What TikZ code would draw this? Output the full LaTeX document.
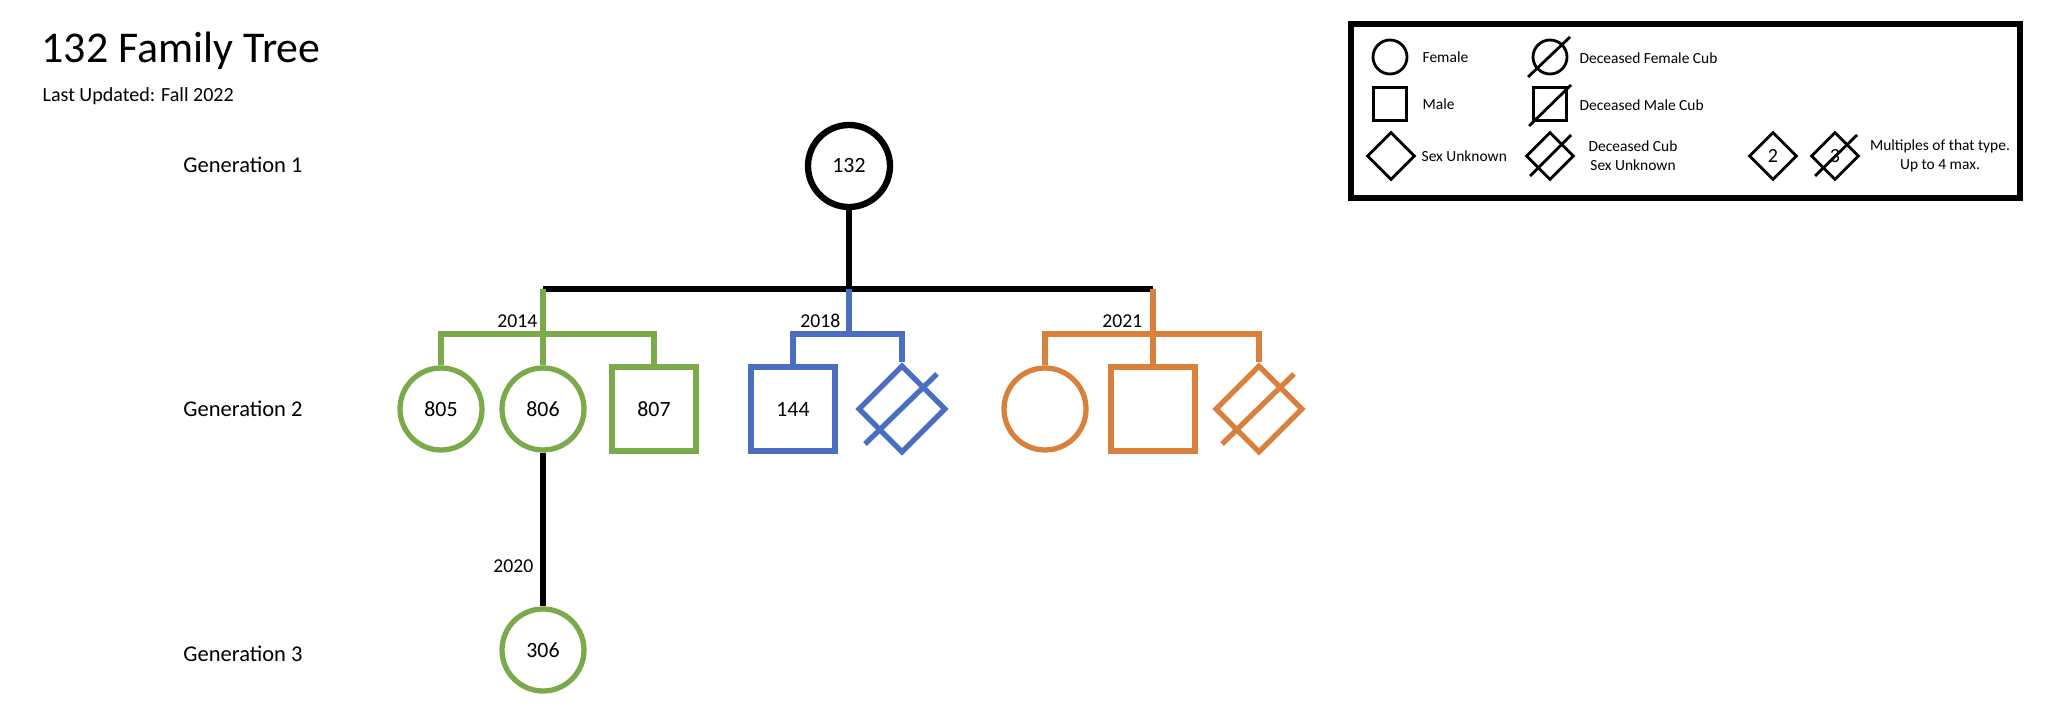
\documentclass[tikz,border=0pt]{standalone}
\usepackage{fontspec}
\setmainfont{Carlito}
\usepackage{xcolor}
\usepackage{tikz}
\usetikzlibrary{shapes.geometric}

\definecolor{famgreen}{RGB}{122,170,74}
\definecolor{famblue}{RGB}{74,110,194}
\definecolor{famorange}{RGB}{216,128,60}

\begin{document}
\begin{tikzpicture}[
    x=0.1mm, y=-0.1mm,
    line width=1.5pt,
    female/.style={
        circle,
        draw,
        inner sep=0pt,
        minimum size=8.2mm,
        font=\fontsize{6.2pt}{7.4pt}\selectfont
    },
    male/.style={
        rectangle,
        draw,
        inner sep=0pt,
        minimum size=8.4mm,
        font=\fontsize{6.2pt}{7.4pt}\selectfont
    },
    unknown/.style={
        diamond,
        draw,
        aspect=1,
        inner sep=0pt,
        minimum size=8.8mm
    },
    lfemale/.style={circle, draw, line width=0.8pt, inner sep=0pt, minimum size=3.4mm},
    lmale/.style={rectangle, draw, line width=0.8pt, inner sep=0pt, minimum size=3.3mm},
    lunknown/.style={diamond, draw, aspect=1, line width=0.8pt, inner sep=0pt,
        minimum size=4.8mm, font=\fontsize{5.7pt}{6.8pt}\selectfont},
    legendtext/.style={anchor=west, inner sep=0pt, align=center,
        font=\fontsize{4.4pt}{5.4pt}\selectfont},
    gentext/.style={inner sep=0pt, font=\fontsize{6.4pt}{7.6pt}\selectfont},
    year/.style={inner sep=0pt, font=\fontsize{5.6pt}{6.7pt}\selectfont},
    cross/.style={line width=0.8pt}
]

\useasboundingbox (0,0) rectangle (2048,710);

\node[anchor=base west, inner sep=0pt, font=\fontsize{12.5pt}{15pt}\selectfont]
    (title) at (39,63) {132 Family Tree};
\node[anchor=base west, inner sep=0pt, font=\fontsize{5.7pt}{6.8pt}\selectfont]
    (updated) at (40,102) {Last Updated: Fall 2022};

\node[gentext] (gen1) at (243,165) {Generation 1};
\node[gentext] (gen2) at (243,409) {Generation 2};
\node[gentext] (gen3) at (243,654) {Generation 3};

\node[female, line width=1.8pt] (n132) at (849,166) {132};
\coordinate (barwest) at (543,289);
\coordinate (barmid) at (849,289);
\coordinate (bareast) at (1153,289);

\node[female, famgreen, text=black] (n805) at (441,409) {805};
\node[female, famgreen, text=black] (n806) at (543,409) {806};
\node[male, famgreen, text=black] (n807) at (654,409) {807};
\coordinate (greenbar) at (543,334);

\node[male, famblue, text=black] (n144) at (793,409) {144};
\node[unknown, famblue] (blue2) at (902,409) {};
\coordinate (bluebar) at (849,334);

\node[female, famorange] (orange1) at (1045,409) {};
\node[male, famorange] (orange2) at (1153,409) {};
\node[unknown, famorange] (orange3) at (1259,409) {};
\coordinate (orangebar) at (1153,334);

\node[female, famgreen, text=black] (n306) at (543,650) {306};

\draw (n132) -- (barmid);
\draw (barwest) -- (bareast);

\draw[famgreen] (barwest) -- (n806.north);
\draw[famgreen] (n805.north) -- (n805.north |- greenbar) -- (n807.north |- greenbar) -- (n807.north);

\draw[famblue] (barmid) -- (bluebar);
\draw[famblue] (n144.north) -- (n144.north |- bluebar) -- (blue2.north |- bluebar) -- (blue2.north);
\draw[famblue] ([shift={(-37,35)}]blue2.center) -- ([shift={(35,-35)}]blue2.center);

\draw[famorange] (bareast) -- (orange2.north);
\draw[famorange] (orange1.north) -- (orange1.north |- orangebar) -- (orange3.north |- orangebar) -- (orange3.north);
\draw[famorange] ([shift={(-37,35)}]orange3.center) -- ([shift={(35,-35)}]orange3.center);

\draw (n806) -- (n306);

\node[year, anchor=south east] (y2014) at (540,330) {2014};
\node[year, anchor=south east] (y2018) at (843,330) {2018};
\node[year, anchor=south east] (y2021) at (1145,330) {2021};
\node[year, anchor=east] (y2020) at (536,566) {2020};

\node[draw, line width=1.6pt, inner sep=0pt, minimum width=66.9mm, minimum height=17.4mm]
    (legend) at (1685.5,111) {};

\node[lfemale] (lf) at (1390,57) {};
\node[legendtext] (lftext) at (1420,57) {Female};
\node[lmale] (lm) at (1390,104) {};
\node[legendtext] (lmtext) at (1420,104) {Male};
\node[lunknown] (lu) at (1391,156) {};
\node[legendtext] (lutext) at (1419,156) {Sex Unknown};

\node[lfemale] (ldf) at (1550,57) {};
\draw[cross] ([shift={(-22,20)}]ldf.center) -- ([shift={(20,-20)}]ldf.center);
\node[legendtext] (ldftext) at (1577,58) {Deceased Female Cub};
\node[lmale] (ldm) at (1550,104) {};
\draw[cross] ([shift={(-21,22)}]ldm.center) -- ([shift={(21,-19)}]ldm.center);
\node[legendtext] (ldmtext) at (1577,105) {Deceased Male Cub};
\node[lunknown] (ldu) at (1550,156) {};
\draw[cross] ([shift={(-20,20)}]ldu.center) -- ([shift={(21,-21)}]ldu.center);
\node[legendtext, anchor=center] (ldutext) at (1633,156) {Deceased Cub\\Sex Unknown};

\node[lunknown] (lmulti2) at (1773,156) {2};
\node[lunknown] (lmulti3) at (1835,156) {3};
\draw[cross] ([shift={(-20,20)}]lmulti3.center) -- ([shift={(22,-21)}]lmulti3.center);
\node[legendtext, anchor=center] (lmultitext) at (1940,156) {Multiples of that type.\\Up to 4 max.};

\end{tikzpicture}
\end{document}
